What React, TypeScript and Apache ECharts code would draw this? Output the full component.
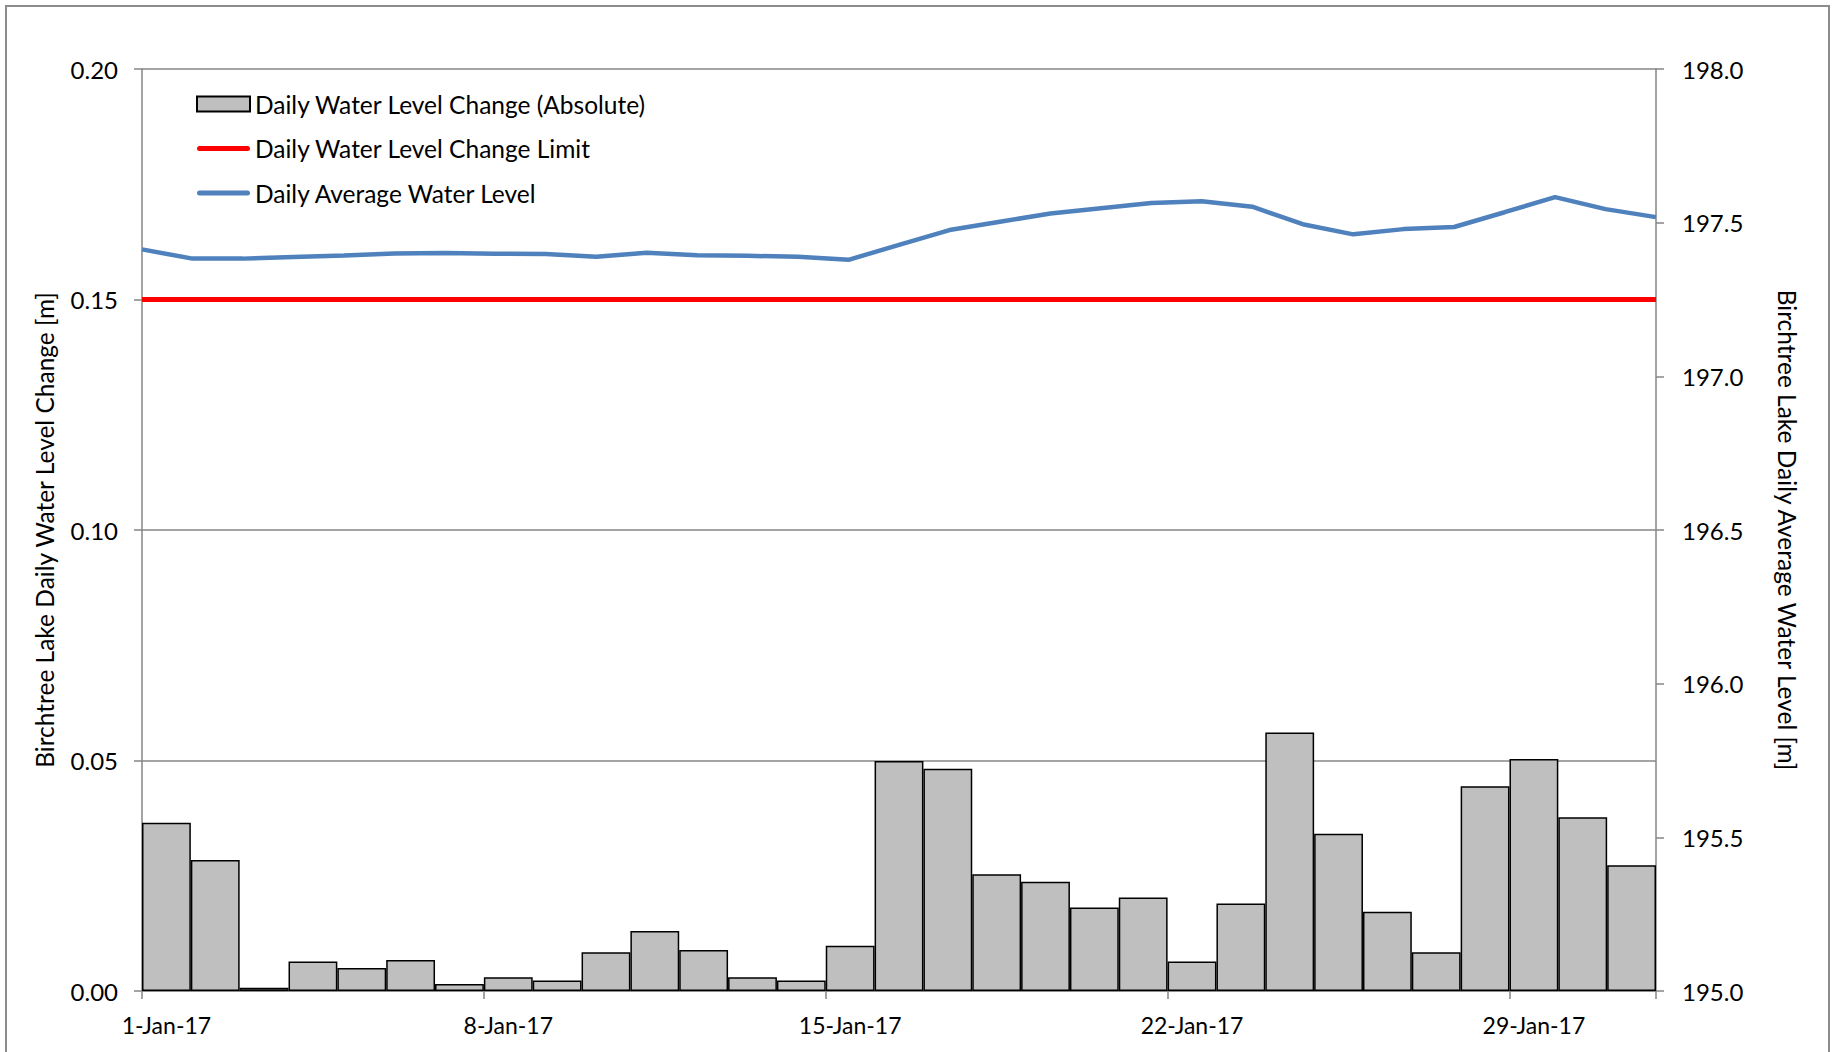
import React, { useEffect, useRef } from "react";
import * as echarts from "echarts";

const days = [
  "1-Jan-17", "2-Jan-17", "3-Jan-17", "4-Jan-17", "5-Jan-17", "6-Jan-17", "7-Jan-17",
  "8-Jan-17", "9-Jan-17", "10-Jan-17", "11-Jan-17", "12-Jan-17", "13-Jan-17", "14-Jan-17",
  "15-Jan-17", "16-Jan-17", "17-Jan-17", "18-Jan-17", "19-Jan-17", "20-Jan-17", "21-Jan-17",
  "22-Jan-17", "23-Jan-17", "24-Jan-17", "25-Jan-17", "26-Jan-17", "27-Jan-17", "28-Jan-17",
  "29-Jan-17", "30-Jan-17", "31-Jan-17",
];

const dailyChange = [
  0.0365, 0.0284, 0.0007, 0.0064, 0.005, 0.0067, 0.0015, 0.003, 0.0023, 0.0084, 0.013,
  0.0089, 0.003, 0.0023, 0.0098, 0.0499, 0.0482, 0.0253, 0.0237, 0.0181, 0.0203, 0.0064,
  0.019, 0.0561, 0.0341, 0.0172, 0.0084, 0.0444, 0.0503, 0.0377, 0.0273,
];

const changeLimit = [
  0.15, 0.15, 0.15, 0.15, 0.15, 0.15, 0.15, 0.15, 0.15, 0.15, 0.15, 0.15, 0.15, 0.15, 0.15,
  0.15, 0.15, 0.15, 0.15, 0.15, 0.15, 0.15, 0.15, 0.15, 0.15, 0.15, 0.15, 0.15, 0.15, 0.15,
  0.15,
];

const avgLevel = [
  197.413, 197.383, 197.383, 197.388, 197.393, 197.4, 197.401, 197.399, 197.398, 197.389,
  197.402, 197.394, 197.392, 197.389, 197.379, 197.428, 197.476, 197.503, 197.53, 197.547,
  197.564, 197.57, 197.552, 197.495, 197.462, 197.479, 197.486, 197.534, 197.583, 197.544,
  197.518,
];

const seriesNames = [
  "Daily Water Level Change (Absolute)",
  "Daily Water Level Change Limit",
  "Daily Average Water Level",
];

const leftAxisTitle = "Birchtree Lake Daily Water Level Change [m]";
const rightAxisTitle = "Birchtree Lake Daily Average Water Level [m]";

const FONT = "Lato";
const AXIS_GRAY = "#868686";
const LINE_ICON = "path://M2.5,0 H50.5 A2.5,2.5 0 0 1 50.5,5 H2.5 A2.5,2.5 0 0 1 2.5,0 Z";

export default function App() {
  const ref = useRef<HTMLDivElement>(null);

  useEffect(() => {
    document.body.style.margin = "0";
    if (!ref.current) return;
    const chart = echarts.init(ref.current, undefined, { renderer: "svg" });
    chart.setOption({
      animation: false,
      backgroundColor: "#ffffff",
      textStyle: { fontFamily: FONT },
      grid: { left: 142, right: 178, top: 69, bottom: 61 },
      graphic: [
        {
          type: "rect",
          silent: true,
          shape: { x: 6, y: 6, width: 1823, height: 1100 },
          style: { fill: "none", stroke: "#8c8c8c", lineWidth: 2 },
        },
      ],
      legend: {
        orient: "vertical",
        left: 191,
        top: 84,
        itemWidth: 53,
        itemHeight: 15,
        itemGap: 14.5,
        symbolKeepAspect: true,
        textStyle: { fontFamily: FONT, fontSize: 24.5, color: "#000", lineHeight: 30 },
        data: [
          { name: seriesNames[0], icon: "rect" },
          {
            name: seriesNames[1],
            icon: LINE_ICON,
            itemStyle: { color: "#FF0000", borderWidth: 0 },
          },
          {
            name: seriesNames[2],
            icon: LINE_ICON,
            itemStyle: { color: "#4F81BD", borderWidth: 0 },
          },
        ],
      },
      xAxis: [
        {
          type: "category",
          data: days,
          boundaryGap: true,
          axisLine: { lineStyle: { color: AXIS_GRAY, width: 1.5 } },
          axisTick: {
            show: true,
            interval: 6,
            alignWithLabel: false,
            length: 8,
            lineStyle: { color: AXIS_GRAY, width: 1.5 },
          },
          axisLabel: {
            interval: 6,
            margin: 22,
            color: "#000",
            fontFamily: FONT,
            fontSize: 23,
          },
          splitLine: { show: false },
        },
        {
          type: "category",
          data: days,
          boundaryGap: false,
          show: false,
        },
      ],
      yAxis: [
        {
          type: "value",
          min: 0,
          max: 0.2,
          interval: 0.05,
          position: "left",
          name: leftAxisTitle,
          nameLocation: "middle",
          nameRotate: 90,
          nameGap: 85,
          nameTextStyle: { fontFamily: FONT, fontSize: 24.5, color: "#000" },
          axisLine: { show: true, lineStyle: { color: AXIS_GRAY, width: 1.5 } },
          axisTick: { show: true, length: 8, lineStyle: { color: AXIS_GRAY, width: 1.5 } },
          axisLabel: {
            margin: 24,
            color: "#000",
            fontFamily: FONT,
            fontSize: 24,
            formatter: (v: number) => v.toFixed(2),
          },
          splitLine: { show: true, lineStyle: { color: AXIS_GRAY, width: 1.5 } },
        },
        {
          type: "value",
          min: 195,
          max: 198,
          interval: 0.5,
          position: "right",
          name: rightAxisTitle,
          nameLocation: "middle",
          nameRotate: -90,
          nameGap: 119,
          nameTextStyle: { fontFamily: FONT, fontSize: 24.5, color: "#000" },
          axisLine: { show: true, lineStyle: { color: AXIS_GRAY, width: 1.5 } },
          axisTick: { show: true, length: 8, lineStyle: { color: AXIS_GRAY, width: 1.5 } },
          axisLabel: {
            margin: 26,
            color: "#000",
            fontFamily: FONT,
            fontSize: 24,
            formatter: (v: number) => v.toFixed(1),
          },
          splitLine: { show: false },
        },
      ],
      series: [
        {
          name: seriesNames[0],
          type: "bar",
          xAxisIndex: 0,
          yAxisIndex: 0,
          data: dailyChange,
          barCategoryGap: "0%",
          barGap: "0%",
          itemStyle: { color: "#BFBFBF", borderColor: "#000", borderWidth: 1.5 },
          z: 2,
        },
        {
          name: seriesNames[1],
          type: "line",
          xAxisIndex: 1,
          yAxisIndex: 0,
          data: changeLimit,
          symbol: "none",
          showSymbol: false,
          lineStyle: { color: "#FF0000", width: 5 },
          itemStyle: { color: "#FF0000" },
          z: 3,
        },
        {
          name: seriesNames[2],
          type: "line",
          xAxisIndex: 1,
          yAxisIndex: 1,
          data: avgLevel,
          symbol: "none",
          showSymbol: false,
          lineStyle: { color: "#4F81BD", width: 4.5 },
          itemStyle: { color: "#4F81BD" },
          z: 4,
        },
      ],
    });
    return () => chart.dispose();
  }, []);

  return <div ref={ref} style={{ width: 1834, height: 1052 }} />;
}
